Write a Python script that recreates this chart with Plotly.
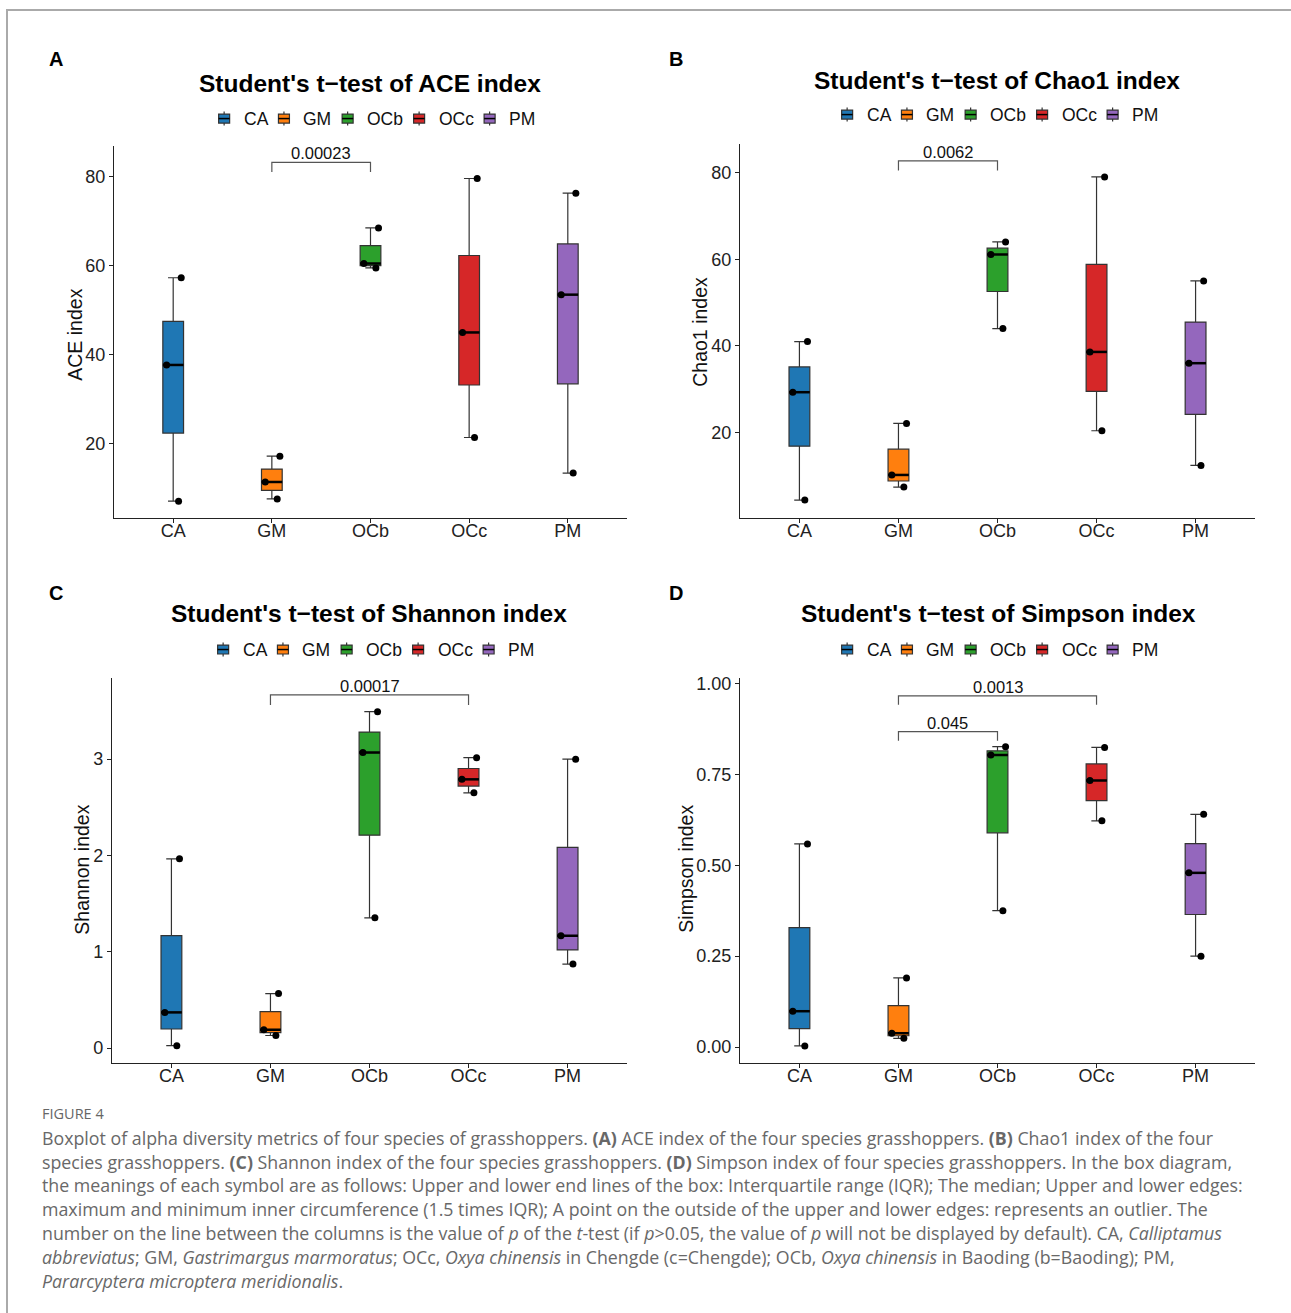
import numpy as np
import plotly.graph_objects as go

# ---------------- data ----------------
groups = ["CA", "GM", "OCb", "OCc", "PM"]
colors = ["#1F77B4", "#FF7F0E", "#2CA02C", "#D62728", "#9467BD"]

ace_CA = [7.0, 37.6, 57.2]
ace_GM = [7.5, 11.3, 17.1]
ace_OCb = [59.4, 60.4, 68.4]
ace_OCc = [21.3, 44.9, 79.5]
ace_PM = [13.3, 53.4, 76.2]

chao_CA = [4.4, 29.3, 41.0]
chao_GM = [7.4, 10.2, 22.1]
chao_OCb = [44.0, 61.1, 64.0]
chao_OCc = [20.4, 38.6, 79.0]
chao_PM = [12.4, 36.0, 55.0]

shan_CA = [0.025, 0.37, 1.965]
shan_GM = [0.13, 0.19, 0.565]
shan_OCb = [1.352, 3.068, 3.493]
shan_OCc = [2.65, 2.79, 3.015]
shan_PM = [0.872, 1.166, 3.0]

simp_CA = [0.003, 0.0985, 0.5585]
simp_GM = [0.024, 0.038, 0.19]
simp_OCb = [0.375, 0.803, 0.826]
simp_OCc = [0.622, 0.733, 0.824]
simp_PM = [0.25, 0.479, 0.64]

# p-value comparisons: (group1, group2, label)
ace_tests = [("GM", "OCb", "0.00023")]
chao_tests = [("GM", "OCb", "0.0062")]
shan_tests = [("GM", "OCc", "0.00017")]
simp_tests = [("GM", "OCb", "0.045"), ("GM", "OCc", "0.0013")]

titles = ["Student's t\u2212test of ACE index", "Student's t\u2212test of Chao1 index",
          "Student's t\u2212test of Shannon index", "Student's t\u2212test of Simpson index"]
ytitles = ["ACE index", "Chao1 index", "Shannon index", "Simpson index"]
letters = ["A", "B", "C", "D"]

# ---------------- layout helpers ----------------
W, H = 1291, 1313
def px(x): return x / W
def py(y): return 1 - y / H

FONT = "Liberation Sans, Arial, sans-serif"
# Arial advance widths (per 1000 em) for legend label layout
AW = {"C": 722, "A": 667, "G": 778, "M": 833, "O": 778, "b": 556, "c": 500, "P": 667}
def text_w(s, size): return sum(AW.get(ch, 600) for ch in s) * size / 1000.0

panels = [
    dict(data=[ace_CA, ace_GM, ace_OCb, ace_OCc, ace_PM], tests=ace_tests,
         xd=(114, 627), yd=(142, 515), yr=(3.2, 86.7), tv=[20, 40, 60, 80], tf="",
         title_xy=(370, 79), leg_xy=(376, 114), letter_xy=(56, 54), ytitle_xy=(75, 331)),
    dict(data=[chao_CA, chao_GM, chao_OCb, chao_OCc, chao_PM], tests=chao_tests,
         xd=(740, 1255), yd=(140, 515), yr=(0.25, 86.5), tv=[20, 40, 60, 80], tf="",
         title_xy=(997, 76), leg_xy=(999, 110), letter_xy=(676, 54), ytitle_xy=(700, 328)),
    dict(data=[shan_CA, shan_GM, shan_OCb, shan_OCc, shan_PM], tests=shan_tests,
         xd=(112, 627), yd=(676, 1062), yr=(-0.155, 3.838), tv=[0, 1, 2, 3], tf="",
         title_xy=(369, 611), leg_xy=(375, 647), letter_xy=(56, 590), ytitle_xy=(82, 868)),
    dict(data=[simp_CA, simp_GM, simp_OCb, simp_OCc, simp_PM], tests=simp_tests,
         xd=(740, 1255), yd=(676, 1062), yr=(-0.0438, 1.0137), tv=[0, 0.25, 0.5, 0.75, 1.0], tf=".2f",
         title_xy=(998, 611), leg_xy=(999, 647), letter_xy=(676, 590), ytitle_xy=(686, 867)),
]

fig = go.Figure()
shapes, annotations = [], []
layout = dict(width=W, height=H, margin=dict(l=0, r=0, t=0, b=0),
              paper_bgcolor="white", plot_bgcolor="white", showlegend=False,
              font=dict(family=FONT, color="#111"), boxmode="overlay")

BOXW = 0.21
LEG_FS = 17.5
ICON_W, ICON_GAP, ITEM_GAP = 11, 12, 12.5
for k, p in enumerate(panels):
    sfx = "" if k == 0 else str(k + 1)
    xa, ya = "x" + sfx, "y" + sfx
    for i, (g, c, vals) in enumerate(zip(groups, colors, p["data"])):
        fig.add_trace(go.Box(
            x=[g] * len(vals), y=vals, name=g, xaxis=xa, yaxis=ya,
            fillcolor=c, line=dict(color="#333333", width=1.2),
            boxpoints="all", jitter=1.0, pointpos=0, quartilemethod="inclusive",
            marker=dict(color="black", size=7), width=BOXW, whiskerwidth=0.5,
            hoverinfo="y"))
        med = float(np.median(vals))
        shapes.append(dict(type="line", xref=xa, yref=ya, x0=i - BOXW / 2, x1=i + BOXW / 2,
                           y0=med, y1=med, line=dict(color="black", width=2.5), layer="above"))
    # significance brackets (ggsignif-like placement from data)
    allv = np.concatenate([np.asarray(v) for v in p["data"]])
    rng = allv.max() - allv.min()
    for j, (g1, g2, lab) in enumerate(p["tests"]):
        top = allv.max() + 0.05 * rng + j * 0.12 * rng
        tip = top - 0.03 * rng
        i1, i2 = groups.index(g1), groups.index(g2)
        shapes.append(dict(type="path", xref=xa, yref=ya,
                           path=f"M {i1},{tip} L {i1},{top} L {i2},{top} L {i2},{tip}",
                           line=dict(color="#555555", width=1.2)))
        annotations.append(dict(xref=xa, yref=ya, x=(i1 + i2) / 2, y=top, text=lab,
                                showarrow=False, yanchor="bottom", yshift=-2,
                                font=dict(size=16.5, color="#111", family=FONT)))
    layout["xaxis" + sfx] = dict(domain=[px(p["xd"][0]), px(p["xd"][1])], anchor=ya,
                                 type="category", range=[-0.6, 4.6],
                                 categoryorder="array", categoryarray=groups,
                                 showline=True, linecolor="#222", linewidth=1.2,
                                 ticks="outside", ticklen=4, tickcolor="#222",
                                 ticklabelstandoff=-8,
                                 tickfont=dict(size=18, color="#222"), showgrid=False, zeroline=False)
    layout["yaxis" + sfx] = dict(domain=[py(p["yd"][1]), py(p["yd"][0])], anchor=xa,
                                 range=list(p["yr"]), tickvals=p["tv"], tickformat=p["tf"],
                                 showline=True, linecolor="#222", linewidth=1.2,
                                 ticks="outside", ticklen=4, tickcolor="#222",
                                 tickfont=dict(size=18, color="#222"), showgrid=False, zeroline=False)

    # ggplot-style legend: mini boxplot keys + labels, centred above the panel
    widths = [text_w(g, LEG_FS) for g in groups]
    total = sum(ICON_W + ICON_GAP + w for w in widths) + ITEM_GAP * (len(groups) - 1)
    lx = p["leg_xy"][0] - total / 2
    ly = p["leg_xy"][1]
    for g, c, w in zip(groups, colors, widths):
        cx = lx + ICON_W / 2
        shapes.append(dict(type="line", xref="paper", yref="paper", x0=px(cx), x1=px(cx),
                           y0=py(ly - 7), y1=py(ly + 7), line=dict(color="#333333", width=1.2)))
        shapes.append(dict(type="rect", xref="paper", yref="paper", x0=px(lx), x1=px(lx + ICON_W),
                           y0=py(ly + 4.5), y1=py(ly - 4.5), fillcolor=c,
                           line=dict(color="#333333", width=1.2)))
        shapes.append(dict(type="line", xref="paper", yref="paper", x0=px(lx), x1=px(lx + ICON_W),
                           y0=py(ly), y1=py(ly), line=dict(color="black", width=1.5)))
        annotations.append(dict(xref="paper", yref="paper", x=px(lx + ICON_W + ICON_GAP), y=py(ly),
                                text=g, showarrow=False, xanchor="left", yanchor="middle",
                                font=dict(size=LEG_FS, color="#111", family=FONT)))
        lx += ICON_W + ICON_GAP + w + ITEM_GAP

    annotations.append(dict(xref="paper", yref="paper", x=px(p["ytitle_xy"][0]), y=py(p["ytitle_xy"][1]),
                            text=ytitles[k], textangle=-90, showarrow=False,
                            xanchor="center", yanchor="middle",
                            font=dict(size=19.5, color="#111", family=FONT)))
    annotations.append(dict(xref="paper", yref="paper", x=px(p["title_xy"][0]), y=py(p["title_xy"][1]),
                            text="<b>" + titles[k] + "</b>", showarrow=False,
                            xanchor="center", yanchor="middle",
                            font=dict(size=24.5, color="#000", family=FONT)))
    annotations.append(dict(xref="paper", yref="paper", x=px(p["letter_xy"][0]), y=py(p["letter_xy"][1]),
                            text="<b>" + letters[k] + "</b>", showarrow=False,
                            xanchor="center", yanchor="middle",
                            font=dict(size=20, color="#000", family=FONT)))

# figure frame
shapes.append(dict(type="line", xref="paper", yref="paper", x0=px(6), x1=1, y0=py(5), y1=py(5),
                   line=dict(color="#AAAAAA", width=2)))
shapes.append(dict(type="line", xref="paper", yref="paper", x0=px(7), x1=px(7), y0=py(5), y1=0,
                   line=dict(color="#AAAAAA", width=2)))

# caption
CAP = "Open Sans, Lato, sans-serif"
cap_lines = [
    "Boxplot of alpha diversity metrics of four species of grasshoppers. <b>(A)</b> ACE index of the four species grasshoppers. <b>(B)</b> Chao1 index of the four",
    "species grasshoppers. <b>(C)</b> Shannon index of the four species grasshoppers. <b>(D)</b> Simpson index of four species grasshoppers. In the box diagram,",
    "the meanings of each symbol are as follows: Upper and lower end lines of the box: Interquartile range (IQR); The median; Upper and lower edges:",
    "maximum and minimum inner circumference (1.5 times IQR); A point on the outside of the upper and lower edges: represents an outlier. The",
    "number on the line between the columns is the value of <i>p</i> of the <i>t</i>-test (if <i>p</i>&gt;0.05, the value of <i>p</i> will not be displayed by default). CA, <i>Calliptamus</i>",
    "<i>abbreviatus</i>; GM, <i>Gastrimargus marmoratus</i>; OCc, <i>Oxya chinensis</i> in Chengde (c=Chengde); OCb, <i>Oxya chinensis</i> in Baoding (b=Baoding); PM,",
    "<i>Pararcyptera microptera meridionalis</i>.",
]
annotations.append(dict(xref="paper", yref="paper", x=px(40), y=py(1113), text="FIGURE 4",
                        showarrow=False, xanchor="left", yanchor="middle",
                        font=dict(size=14.5, color="#666666", family=CAP)))
for n, line in enumerate(cap_lines):
    annotations.append(dict(xref="paper", yref="paper", x=px(40), y=py(1137 + 24 * n), text=line,
                            showarrow=False, xanchor="left", yanchor="middle",
                            font=dict(size=17.8, color="#686868", family=CAP)))

layout["shapes"] = shapes
layout["annotations"] = annotations
fig.update_layout(**layout)

fig.write_html("out.html", config={"displayModeBar": False},
               post_script="document.body.style.margin='0';")
